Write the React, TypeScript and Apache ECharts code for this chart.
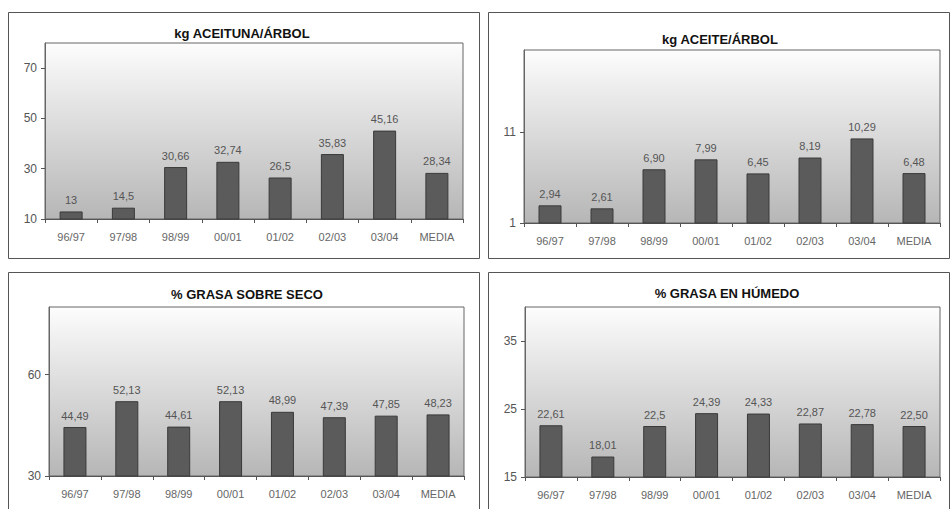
import React, { useEffect, useRef } from "react";
import * as echarts from "echarts";

const categories = ["96/97", "97/98", "98/99", "00/01", "01/02", "02/03", "03/04", "MEDIA"];

const aceitunaValues = [13, 14.5, 30.66, 32.74, 26.5, 35.83, 45.16, 28.34];
const aceitunaLabels = ["13", "14,5", "30,66", "32,74", "26,5", "35,83", "45,16", "28,34"];

const aceiteValues = [2.94, 2.61, 6.9, 7.99, 6.45, 8.19, 10.29, 6.48];
const aceiteLabels = ["2,94", "2,61", "6,90", "7,99", "6,45", "8,19", "10,29", "6,48"];

const secoValues = [44.49, 52.13, 44.61, 52.13, 48.99, 47.39, 47.85, 48.23];
const secoLabels = ["44,49", "52,13", "44,61", "52,13", "48,99", "47,39", "47,85", "48,23"];

const humedoValues = [22.61, 18.01, 22.5, 24.39, 24.33, 22.87, 22.78, 22.5];
const humedoLabels = ["22,61", "18,01", "22,5", "24,39", "24,33", "22,87", "22,78", "22,50"];

const titles = ["kg ACEITUNA/ÁRBOL", "kg ACEITE/ÁRBOL", "% GRASA SOBRE SECO", "% GRASA EN HÚMEDO"];

const panels = [
  { values: aceitunaValues, labels: aceitunaLabels, min: 10, max: 80, interval: 20,
    grid: { left: 45, top: 43, width: 418, height: 176 }, frame: { x: 8.5, y: 12.5, w: 471, h: 246 }, title: { x: 242, y: 33 } },
  { values: aceiteValues, labels: aceiteLabels, min: 1, max: 20, interval: 10,
    grid: { left: 524, top: 50, width: 416, height: 173 }, frame: { x: 488.5, y: 12.5, w: 461, h: 246 }, title: { x: 720, y: 39 } },
  { values: secoValues, labels: secoLabels, min: 30, max: 80, interval: 30,
    grid: { left: 49, top: 307, width: 415, height: 169 }, frame: { x: 8.5, y: 272.5, w: 471, h: 250 }, title: { x: 247, y: 294 } },
  { values: humedoValues, labels: humedoLabels, min: 15, max: 40, interval: 10,
    grid: { left: 525, top: 307, width: 415, height: 170 }, frame: { x: 488.5, y: 272.5, w: 461, h: 250 }, title: { x: 727, y: 293 } },
];

const FONT = "Liberation Sans, Arial, sans-serif";

export default function App() {
  const ref = useRef<HTMLDivElement>(null);
  useEffect(() => {
    if (!ref.current) return;
    const chart = echarts.init(ref.current, undefined, { renderer: "svg" });
    const bg = new echarts.graphic.LinearGradient(0, 0, 0, 1, [
      { offset: 0, color: "#fdfdfd" },
      { offset: 0.15, color: "#f2f2f2" },
      { offset: 1, color: "#b6b6b6" },
    ]);
    const option: any = {
      animation: false,
      backgroundColor: "#ffffff",
      grid: panels.map((p) => ({
        ...p.grid,
        show: true,
        backgroundColor: bg,
        borderColor: "#666",
        borderWidth: 1,
        containLabel: false,
      })),
      xAxis: panels.map((p, i) => ({
        type: "category",
        gridIndex: i,
        data: categories,
        boundaryGap: true,
        axisLine: { lineStyle: { color: "#555", width: 1 } },
        axisTick: { show: true, length: 4, lineStyle: { color: "#555" } },
        axisLabel: { color: "#666", fontSize: 11, fontFamily: FONT, margin: 12, interval: 0 },
        splitLine: { show: false },
      })),
      yAxis: panels.map((p, i) => ({
        type: "value",
        gridIndex: i,
        min: p.min,
        max: p.max,
        interval: p.interval,
        axisLine: { show: true, lineStyle: { color: "#666", width: 1 } },
        axisTick: { show: true, length: 4, lineStyle: { color: "#555" } },
        axisLabel: { color: "#555", fontSize: 12, fontFamily: FONT, margin: 8, showMaxLabel: false },
        splitLine: { show: false },
      })),
      series: panels.map((p, i) => ({
        type: "bar",
        xAxisIndex: i,
        yAxisIndex: i,
        data: p.values,
        barWidth: 23,
        itemStyle: { color: "#5b5b5b", borderColor: "#3a3a3a", borderWidth: 1 },
        label: {
          show: true,
          position: "top",
          distance: 6,
          color: "#555",
          fontSize: 11,
          fontFamily: FONT,
          formatter: (params: any) => p.labels[params.dataIndex],
        },
      })),
      graphic: [
        ...panels.map((p) => ({
          type: "rect",
          silent: true,
          z: -1,
          shape: { x: p.frame.x, y: p.frame.y, width: p.frame.w, height: p.frame.h },
          style: { fill: "none", stroke: "#555", lineWidth: 1 },
        })),
        ...panels.map((p, i) => ({
          type: "text",
          silent: true,
          x: p.title.x,
          y: p.title.y,
          style: {
            text: titles[i],
            fill: "#111",
            font: `bold 13px ${FONT}`,
            textAlign: "center",
            textVerticalAlign: "middle",
          },
        })),
      ],
    };
    chart.setOption(option);
    return () => chart.dispose();
  }, []);
  return (
    <div
      ref={ref}
      style={{ position: "fixed", left: 0, top: 0, width: 951, height: 509 }}
    />
  );
}
